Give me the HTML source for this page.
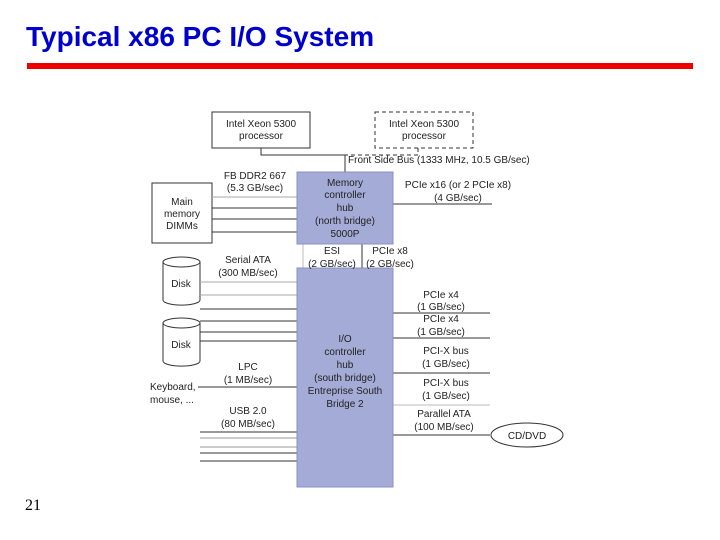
<!DOCTYPE html>
<html><head><meta charset="utf-8"><style>
html,body{margin:0;padding:0;background:#fff;width:720px;height:540px;overflow:hidden}
svg{display:block}
text{font-family:"Liberation Sans",sans-serif;font-size:10px;fill:#222}
</style></head><body>
<svg width="720" height="540" viewBox="0 0 720 540">
<text x="26" y="46" style="font-size:28px;font-weight:bold;fill:#0000cc">Typical x86 PC I/O System</text>
<rect x="27" y="63" width="666" height="6" fill="#ee0000"/>
<text x="25" y="510" style="font-family:'Liberation Serif',serif;font-size:16px;fill:#000">21</text>

<g stroke="#333" stroke-width="1" fill="none">
<rect x="212" y="112" width="98" height="36" fill="#fff"/>
<rect x="375" y="112" width="98" height="36" fill="#fff" stroke-dasharray="4,3"/>
<polyline points="261,148 261,155 345,155 345,172"/>
<polyline points="418,148 418,155 345,155" stroke-dasharray="4,3"/>
<rect x="152" y="183" width="60" height="60" fill="#fff"/>
<line x1="212" y1="197" x2="297" y2="197" stroke="#aaa"/>
<line x1="212" y1="208" x2="297" y2="208"/>
<line x1="212" y1="219" x2="297" y2="219"/>
<line x1="212" y1="232" x2="297" y2="232"/>
<line x1="393" y1="204" x2="492" y2="204"/>
<line x1="303" y1="244" x2="303" y2="268" stroke="#bbb"/>
<line x1="362" y1="244" x2="362" y2="268"/>
<path d="M163,262 v38 a18,5 0 0 0 37,0 v-38" fill="#fff"/>
<ellipse cx="181.5" cy="262" rx="18.5" ry="5" fill="#fff"/>
<path d="M163,323 v38 a18,5 0 0 0 37,0 v-38" fill="#fff"/>
<ellipse cx="181.5" cy="323" rx="18.5" ry="5" fill="#fff"/>
<line x1="200" y1="282" x2="297" y2="282" stroke="#aaa"/>
<line x1="200" y1="295" x2="297" y2="295" stroke="#aaa"/>
<line x1="200" y1="309" x2="297" y2="309"/>
<line x1="200" y1="321" x2="297" y2="321"/>
<line x1="200" y1="332" x2="297" y2="332"/>
<line x1="200" y1="341" x2="297" y2="341"/>
<line x1="200" y1="387" x2="297" y2="387"/>
<line x1="200" y1="432" x2="297" y2="432"/>
<line x1="200" y1="438" x2="297" y2="438" stroke="#999"/>
<line x1="200" y1="447" x2="297" y2="447" stroke="#999"/>
<line x1="200" y1="453" x2="297" y2="453"/>
<line x1="200" y1="461" x2="297" y2="461"/>
<line x1="393" y1="313" x2="490" y2="313"/>
<line x1="393" y1="338" x2="490" y2="338"/>
<line x1="393" y1="373" x2="490" y2="373"/>
<line x1="393" y1="405" x2="490" y2="405" stroke="#bbb"/>
<line x1="393" y1="435" x2="490" y2="435"/>
<ellipse cx="527" cy="435" rx="36" ry="12" fill="#fff"/>
<rect x="297" y="172" width="96" height="72" fill="#a3abd6" stroke="#8890c0"/>
<rect x="297" y="268" width="96" height="219" fill="#a3abd6" stroke="#8890c0"/>
</g>

<g text-anchor="middle">
<text x="261" y="127">Intel Xeon 5300</text><text x="261" y="139">processor</text>
<text x="424" y="127">Intel Xeon 5300</text><text x="424" y="139">processor</text>
<text x="182" y="205">Main</text><text x="182" y="217">memory</text><text x="182" y="229">DIMMs</text>
<text x="255" y="179">FB DDR2 667</text><text x="255" y="191">(5.3 GB/sec)</text>
<text x="345" y="186">Memory</text><text x="345" y="198">controller</text><text x="345" y="211">hub</text><text x="345" y="224">(north bridge)</text><text x="345" y="237">5000P</text>
<text x="458" y="188">PCIe x16 (or 2 PCIe x8)</text><text x="458" y="201">(4 GB/sec)</text>
<text x="332" y="254">ESI</text><text x="332" y="267">(2 GB/sec)</text>
<text x="390" y="254">PCIe x8</text><text x="390" y="267">(2 GB/sec)</text>
<text x="248" y="263">Serial ATA</text><text x="248" y="276">(300 MB/sec)</text>
<text x="181" y="287">Disk</text><text x="181" y="348">Disk</text>
<text x="345" y="342">I/O</text><text x="345" y="355">controller</text><text x="345" y="368">hub</text><text x="345" y="381">(south bridge)</text><text x="345" y="394">Entreprise South</text><text x="345" y="407">Bridge 2</text>
<text x="248" y="370">LPC</text><text x="248" y="383">(1 MB/sec)</text>
<text x="248" y="414">USB 2.0</text><text x="248" y="427">(80 MB/sec)</text>
<text x="441" y="298">PCIe x4</text><text x="441" y="310">(1 GB/sec)</text>
<text x="441" y="322">PCIe x4</text><text x="441" y="335">(1 GB/sec)</text>
<text x="446" y="354">PCI-X bus</text><text x="446" y="367">(1 GB/sec)</text>
<text x="446" y="386">PCI-X bus</text><text x="446" y="399">(1 GB/sec)</text>
<text x="444" y="417">Parallel ATA</text><text x="444" y="430">(100 MB/sec)</text>
<text x="527" y="439">CD/DVD</text>
</g>
<text x="348" y="163">Front Side Bus (1333 MHz, 10.5 GB/sec)</text>
<text x="150" y="390">Keyboard,</text><text x="150" y="403">mouse, ...</text>
<line x1="198" y1="387" x2="200" y2="387" stroke="#333"/>
</svg>
</body></html>
